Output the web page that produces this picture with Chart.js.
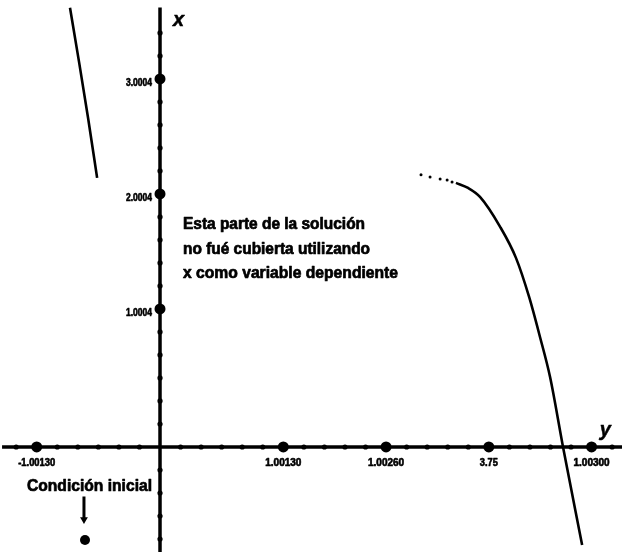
<!DOCTYPE html>
<html>
<head>
<meta charset="utf-8">
<script src="https://cdn.jsdelivr.net/npm/chart.js@4.4.1/dist/chart.umd.min.js"></script>
<style>
html,body{margin:0;padding:0;background:#fff;}
canvas{display:block;}
</style>
</head>
<body>
<canvas id="c" width="622" height="552"></canvas>
<script>
// ---- Data (in axis units; one unit = one minor tick) ----
const xMinorTicks = [-7,-6,-5,-4,-3,-2,-1,1,2,3,4,5,6,7,8,9,10,11,12,13,14,15,16,17,18,19,20,21,22];
const xMajorTicks = [-6, 6, 11, 16, 21];
const xMajorLabels = ["-1.00130", "1.00130", "1.00260", "3.75", "1.00300"];
const yMinorTicks = [-4,-3,-2,-1,1,2,3,4,5,6,7,8,9,10,11,12,13,14,15,16,17,18];
const yMajorTicks = [6, 11, 16];
const yMajorLabels = ["1.0004", "2.0004", "3.0004"];

// upper-left branch of the solution
const branchAX = [-4.38, -3.94, -3.50, -3.06];
const branchAY = [19.09, 16.74, 14.30, 11.70];
// dotted start of the right branch
const dotsX = [12.70, 13.14, 13.63, 13.97, 14.21];
const dotsY = [11.83, 11.74, 11.65, 11.61, 11.52];
// right branch of the solution
const branchBX = [14.40, 14.99, 15.57, 16.55, 17.32, 17.96, 18.49, 18.98, 19.61, 20.54];
const branchBY = [11.48, 11.26, 10.87, 9.57, 8.22, 6.52, 4.78, 3.04, 0.00, -4.26];
// initial condition marker
const initX = [-3.65];
const initY = [-4.04];
const arrowX = [-3.70, -3.70];
const arrowY = [-2.15, -3.15];

const noteLines = ["Esta parte de la solución", "no fué cubierta utilizando", "x como variable dependiente"];
const noteLabel = "Condición inicial";
const axisNameX = "y";
const axisNameY = "x";

// ---- Scale extents ----
const X_MIN = -7.786, X_MAX = 22.48;
const Y_MIN = -4.565, Y_MAX = 19.43;

const zip = (xs, ys) => xs.map((x, i) => ({x: x, y: ys[i]}));

const datasets = [
  {data: [{x: X_MIN + 0.1, y: 0}, {x: X_MAX, y: 0}], borderColor: '#000', borderWidth: 3.5, pointRadius: 0, showLine: true},
  {data: [{x: 0, y: Y_MIN}, {x: 0, y: 19.1}], borderColor: '#000', borderWidth: 3.5, pointRadius: 0, showLine: true},
  {data: xMinorTicks.map(v => ({x: v, y: 0})), backgroundColor: '#000', borderWidth: 0, pointRadius: 2.6, showLine: false},
  {data: yMinorTicks.map(v => ({x: 0, y: v})), backgroundColor: '#000', borderWidth: 0, pointRadius: 2.6, showLine: false},
  {data: xMajorTicks.map(v => ({x: v, y: 0})), backgroundColor: '#000', borderWidth: 0, pointRadius: 5.5, showLine: false},
  {data: yMajorTicks.map(v => ({x: 0, y: v})), backgroundColor: '#000', borderWidth: 0, pointRadius: 5.5, showLine: false},
  {data: zip(branchAX, branchAY), borderColor: '#000', borderWidth: 2.6, pointRadius: 0, showLine: true, cubicInterpolationMode: 'monotone'},
  {data: zip(dotsX, dotsY), backgroundColor: '#000', borderWidth: 0, pointRadius: 1.5, showLine: false},
  {data: zip(branchBX, branchBY), borderColor: '#000', borderWidth: 2.6, pointRadius: 0, showLine: true, cubicInterpolationMode: 'monotone'},
  {data: zip(arrowX, arrowY), borderColor: '#000', borderWidth: 3, pointRadius: 0, showLine: true},
  {data: [{x: arrowX[1], y: arrowY[1]}], backgroundColor: '#000', borderWidth: 0, pointStyle: 'triangle', rotation: 180, pointRadius: 4.5, showLine: false},
  {data: zip(initX, initY), backgroundColor: '#000', borderWidth: 0, pointRadius: 5, showLine: false}
];

const FONT = '"Liberation Sans", Arial, Helvetica, sans-serif';

function heavyText(ctx, t, x, y, w, lw) {
  ctx.lineWidth = lw;
  ctx.strokeStyle = '#000';
  ctx.lineJoin = 'round';
  if (w) { ctx.strokeText(t, x, y, w); ctx.fillText(t, x, y, w); }
  else { ctx.strokeText(t, x, y); ctx.fillText(t, x, y); }
}

const textPlugin = {
  id: 'texts',
  afterDatasetsDraw(chart) {
    const ctx = chart.ctx;
    const xs = chart.scales.x, ys = chart.scales.y;
    const x0 = xs.getPixelForValue(0), y0 = ys.getPixelForValue(0);
    ctx.save();
    ctx.fillStyle = '#000';
    // x-axis tick labels
    ctx.font = 'bold 10px ' + FONT;
    ctx.textAlign = 'center';
    ctx.textBaseline = 'middle';
    xMajorTicks.forEach((v, i) => {
      const w = xMajorLabels[i].length > 5 ? 37 : 18;
      heavyText(ctx, xMajorLabels[i], xs.getPixelForValue(v), y0 + 16, w, 0.6);
    });
    // y-axis tick labels
    ctx.textAlign = 'right';
    yMajorTicks.forEach((v, i) => {
      heavyText(ctx, yMajorLabels[i], x0 - 8, ys.getPixelForValue(v) + 4, 26, 0.6);
    });
    // axis names
    ctx.font = 'italic bold 20px ' + FONT;
    ctx.textAlign = 'left';
    ctx.textBaseline = 'alphabetic';
    heavyText(ctx, axisNameY, x0 + 13, 26, 0, 0.5);
    heavyText(ctx, axisNameX, xs.getPixelForValue(21.4), y0 - 11, 0, 0.5);
    // note
    ctx.font = 'bold 16px ' + FONT;
    const widths = [182, 187, 215];
    noteLines.forEach((t, i) => {
      heavyText(ctx, t, x0 + 23, 229 + i * 24.5, widths[i], 0.7);
    });
    // initial condition label
    ctx.font = 'bold 17px ' + FONT;
    heavyText(ctx, noteLabel, 27, 491, 125, 0.7);
    ctx.restore();
  }
};

new Chart(document.getElementById('c'), {
  type: 'scatter',
  data: {datasets: datasets},
  options: {
    responsive: false,
    animation: false,
    devicePixelRatio: 1,
    layout: {padding: 0, autoPadding: false},
    plugins: {legend: {display: false}, tooltip: {enabled: false}},
    elements: {point: {hoverRadius: 0}},
    scales: {
      x: {type: 'linear', min: X_MIN, max: X_MAX, display: false},
      y: {type: 'linear', min: Y_MIN, max: Y_MAX, display: false}
    }
  },
  plugins: [textPlugin]
});
</script>
</body>
</html>
